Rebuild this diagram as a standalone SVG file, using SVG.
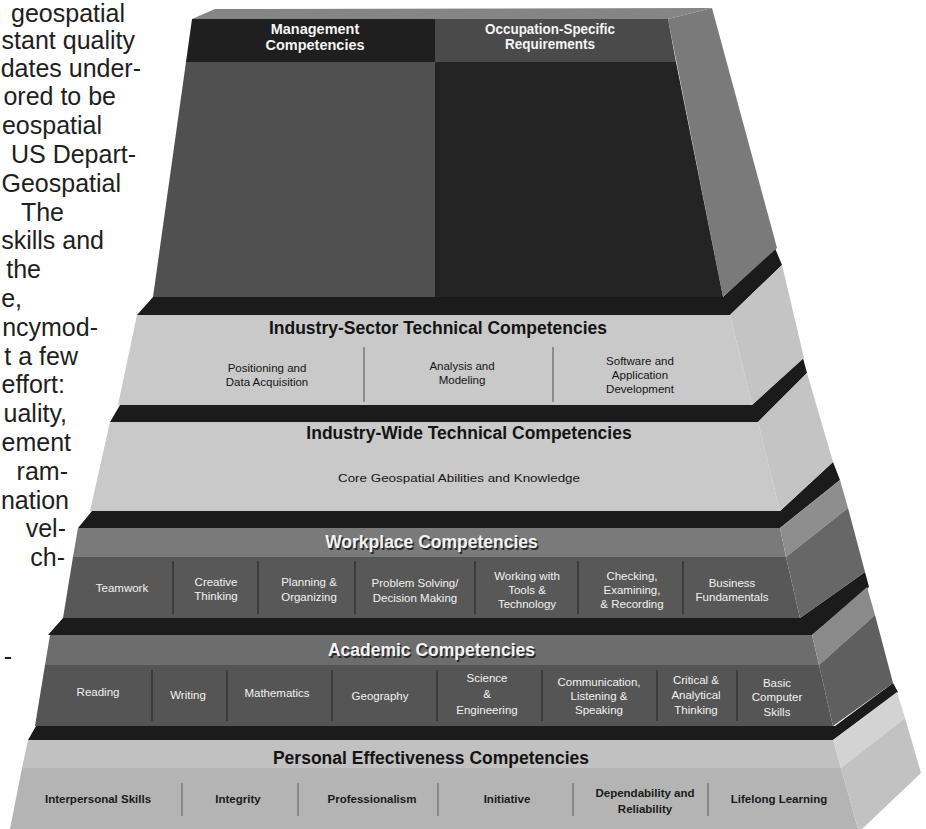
<svg xmlns="http://www.w3.org/2000/svg" width="926" height="829" viewBox="0 0 926 829">
<style>
.col{font-family:"Liberation Sans",Arial,sans-serif;font-size:25px;fill:#1e1e1e;text-anchor:end}
.hdr{font-family:"Liberation Sans",Arial,sans-serif;font-weight:bold;font-size:14.5px;fill:#f4f4f4;text-anchor:middle}
.ttl{font-family:"Liberation Sans",Arial,sans-serif;font-weight:bold;font-size:17.5px;text-anchor:middle}
.dk{fill:#141414}
.lt{fill:#f2f2f2}
.sh{fill:#2a2a2a}
.it{font-family:"Liberation Sans",Arial,sans-serif;font-size:11.5px;text-anchor:middle}
.itb{font-family:"Liberation Sans",Arial,sans-serif;font-size:11.5px;font-weight:bold;text-anchor:middle;fill:#1a1a1a}
.blk{fill:#1b1b1b}
.dvl{stroke:#7a7a7a;stroke-width:1.5}
.dvd{stroke:#3c3c3c;stroke-width:2}
</style>

<g id="article-text">
<text class="col" x="125" y="22">geospatial</text>
<text class="col" x="135" y="49">stant quality</text>
<text class="col" x="141" y="77">dates under-</text>
<text class="col" x="116" y="105">ored to be</text>
<text class="col" x="102" y="134">eospatial</text>
<text class="col" x="136" y="163">US Depart-</text>
<text class="col" x="121" y="192">Geospatial</text>
<text class="col" x="64" y="221">The</text>
<text class="col" x="104" y="249">skills and</text>
<text class="col" x="41" y="278">the</text>
<text class="col" x="22" y="307">e,</text>
<text class="col" x="98" y="336">ncymod-</text>
<text class="col" x="78" y="365">t a few</text>
<text class="col" x="65" y="393">effort:</text>
<text class="col" x="67" y="422">uality,</text>
<text class="col" x="71" y="451">ement</text>
<text class="col" x="68" y="480">ram-</text>
<text class="col" x="69" y="509">nation</text>
<text class="col" x="66" y="537">vel-</text>
<text class="col" x="65" y="566">ch-</text>
<text class="col" x="12" y="665">-</text>
</g>

<g id="tier-personal">
<polygon class="blk" points="28,740 36,726 835,726 893,683 898,692 833,740"/>
<polygon fill="#c1c1c1" points="28,740 833,740 841,768 22,768"/>
<polygon fill="#b4b4b4" points="22,768 841,768 858,829 10,829"/>
<polygon fill="#d3d3d3" points="833,740 897,692 905,718 841,768"/>
<polygon fill="#c2c2c2" points="841,768 905,718 921,773 862,829 858,829"/>
<text class="ttl dk" x="431" y="764">Personal Effectiveness Competencies</text>
<g class="dvl">
<line x1="182" y1="783" x2="182" y2="816"/>
<line x1="298" y1="783" x2="298" y2="816"/>
<line x1="438" y1="783" x2="438" y2="816"/>
<line x1="573" y1="783" x2="573" y2="816"/>
<line x1="708" y1="783" x2="708" y2="816"/>
</g>
<text class="itb" x="98" y="803">Interpersonal Skills</text>
<text class="itb" x="238" y="803">Integrity</text>
<text class="itb" x="372" y="803">Professionalism</text>
<text class="itb" x="507" y="803">Initiative</text>
<text class="itb" x="645" y="797">Dependability and</text>
<text class="itb" x="645" y="813">Reliability</text>
<text class="itb" x="779" y="803">Lifelong Learning</text>
</g>

<g id="tier-academic">
<polygon class="blk" points="48,635 63,618 800,618 865,572 869,587 812,635"/>
<polygon fill="#6d6d6d" points="50,635 812,635 819,665 45,665"/>
<polygon fill="#555555" points="45,665 819,665 833,726 35,726"/>
<polygon fill="#8a8a8a" points="812,635 867,587 875,615 819,665"/>
<polygon fill="#5f5f5f" points="819,665 875,615 893,683 833,726"/>
<text class="ttl sh" x="433" y="657.5">Academic Competencies</text>
<text class="ttl lt" x="431.5" y="656">Academic Competencies</text>
<g class="dvd">
<line x1="152" y1="670" x2="152" y2="721"/>
<line x1="227" y1="670" x2="227" y2="721"/>
<line x1="332" y1="670" x2="332" y2="721"/>
<line x1="437" y1="670" x2="437" y2="721"/>
<line x1="542" y1="670" x2="542" y2="721"/>
<line x1="657" y1="670" x2="657" y2="721"/>
<line x1="737" y1="670" x2="737" y2="721"/>
</g>
<text class="it lt" x="98" y="696">Reading</text>
<text class="it lt" x="188" y="699">Writing</text>
<text class="it lt" x="277" y="697">Mathematics</text>
<text class="it lt" x="380" y="700">Geography</text>
<text class="it lt" x="487" y="682">Science</text>
<text class="it lt" x="487" y="698">&amp;</text>
<text class="it lt" x="487" y="714">Engineering</text>
<text class="it lt" x="599" y="686">Communication,</text>
<text class="it lt" x="599" y="700">Listening &amp;</text>
<text class="it lt" x="599" y="714">Speaking</text>
<text class="it lt" x="696" y="684">Critical &amp;</text>
<text class="it lt" x="696" y="699">Analytical</text>
<text class="it lt" x="696" y="714">Thinking</text>
<text class="it lt" x="777" y="687">Basic</text>
<text class="it lt" x="777" y="701">Computer</text>
<text class="it lt" x="777" y="716">Skills</text>
</g>

<g id="tier-workplace">
<polygon class="blk" points="78,528 92,511 780,511 833,462 840,480 780,528"/>
<polygon fill="#7a7a7a" points="78,528 780,528 786,557 73,557"/>
<polygon fill="#585858" points="73,557 786,557 800,618 63,618"/>
<polygon fill="#8e8e8e" points="780,528 840,480 848,508 786,557"/>
<polygon fill="#676767" points="786,557 848,508 865,572 800,618"/>
<text class="ttl sh" x="433" y="549.5">Workplace Competencies</text>
<text class="ttl lt" x="431.5" y="548">Workplace Competencies</text>
<g class="dvd">
<line x1="173" y1="561" x2="173" y2="614"/>
<line x1="258" y1="561" x2="258" y2="614"/>
<line x1="355" y1="561" x2="355" y2="614"/>
<line x1="475" y1="561" x2="475" y2="614"/>
<line x1="578" y1="561" x2="578" y2="614"/>
<line x1="683" y1="561" x2="683" y2="614"/>
</g>
<text class="it lt" x="122" y="592">Teamwork</text>
<text class="it lt" x="216" y="586">Creative</text>
<text class="it lt" x="216" y="600">Thinking</text>
<text class="it lt" x="309" y="586">Planning &amp;</text>
<text class="it lt" x="309" y="601">Organizing</text>
<text class="it lt" x="415" y="587">Problem Solving/</text>
<text class="it lt" x="415" y="602">Decision Making</text>
<text class="it lt" x="527" y="580">Working with</text>
<text class="it lt" x="527" y="594">Tools &amp;</text>
<text class="it lt" x="527" y="608">Technology</text>
<text class="it lt" x="632" y="580">Checking,</text>
<text class="it lt" x="632" y="594">Examining,</text>
<text class="it lt" x="632" y="608">&amp; Recording</text>
<text class="it lt" x="732" y="587">Business</text>
<text class="it lt" x="732" y="601">Fundamentals</text>
</g>

<g id="tier-industry-wide">
<polygon class="blk" points="110,422 120,405 752,405 803,358 807,373 758,422"/>
<polygon fill="#c9c9c9" points="110,422 758,422 780,511 90,511"/>
<polygon fill="#c4c4c4" points="758,422 807,373 833,462 780,511"/>
<text class="ttl dk" x="469" y="439">Industry-Wide Technical Competencies</text>
<text class="it" fill="#151515" x="459" y="482" textLength="242" lengthAdjust="spacingAndGlyphs">Core Geospatial Abilities and Knowledge</text>
</g>

<g id="tier-industry-sector">
<polygon class="blk" points="137,315 153,297 723,297 775,248 782,265 730,315"/>
<polygon fill="#c9c9c9" points="137,315 730,315 752,405 118,405"/>
<polygon fill="#c4c4c4" points="730,315 782,265 804,358 752,405"/>
<text class="ttl dk" x="438" y="334">Industry-Sector Technical Competencies</text>
<g stroke="#777777" stroke-width="1.5">
<line x1="364" y1="347" x2="364" y2="402"/>
<line x1="553" y1="347" x2="553" y2="402"/>
</g>
<text class="it" fill="#151515" x="267" y="372">Positioning and</text>
<text class="it" fill="#151515" x="267" y="386">Data Acquisition</text>
<text class="it" fill="#151515" x="462" y="370">Analysis and</text>
<text class="it" fill="#151515" x="462" y="384">Modeling</text>
<text class="it" fill="#151515" x="640" y="365">Software and</text>
<text class="it" fill="#151515" x="640" y="379">Application</text>
<text class="it" fill="#151515" x="640" y="393">Development</text>
</g>

<g id="tier-top">
<polygon fill="#858585" points="192,19 215,9 712,8 668,19"/>
<polygon fill="#7a7a7a" points="668,19 712,8 777,248 723,297"/>
<g id="management">
<polygon fill="#1f1f1f" points="192,19 435,19 435,62 186,62"/>
<polygon fill="#505050" points="186,62 435,62 435,297 153,297"/>
<text class="hdr" x="315" y="34">Management</text>
<text class="hdr" x="315" y="50">Competencies</text>
</g>
<g id="occupation">
<polygon fill="#4a4a4a" points="435,19 668,19 676,62 435,62"/>
<polygon fill="#242424" points="435,62 676,62 723,297 435,297"/>
<text class="hdr" x="550" y="34" textLength="130" lengthAdjust="spacingAndGlyphs">Occupation-Specific</text>
<text class="hdr" x="550" y="49" textLength="90" lengthAdjust="spacingAndGlyphs">Requirements</text>
</g>
</g>
</svg>
